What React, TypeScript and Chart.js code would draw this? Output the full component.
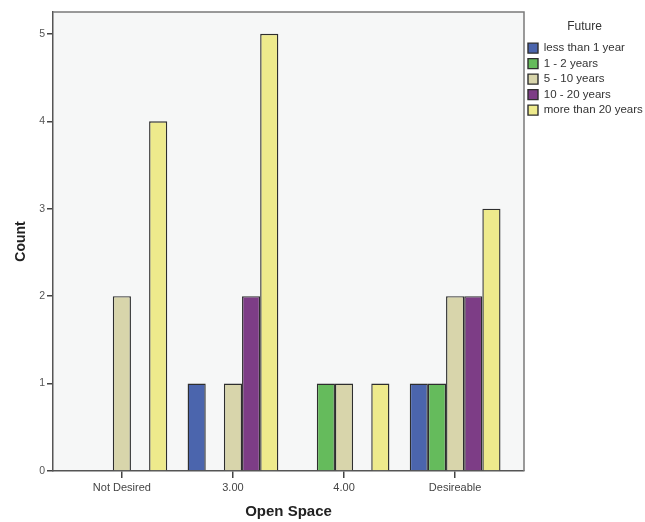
import React, { useEffect, useRef } from 'react';
import { Chart, registerables } from 'chart.js';

Chart.register(...registerables);

const categories = ['Not Desired', '3.00', '4.00', 'Desireable'];
const seriesNames = ['less than 1 year', '1 - 2 years', '5 - 10 years', '10 - 20 years', 'more than 20 years'];
const lessThan1Year = [null, 1, null, 1];
const oneTo2Years = [null, null, 1, 1];
const fiveTo10Years = [2, 1, 1, 2];
const tenTo20Years = [null, 2, null, 2];
const moreThan20Years = [4, 5, 1, 3];
const yTickValues = [0, 1, 2, 3, 4, 5];
const seriesColors = ['#4b65ad', '#65bb5c', '#d8d5ab', '#7d3d86', '#eeea8c'];

const FONT = '"Liberation Sans", Arial, Helvetica, sans-serif';

const plotFrame = {
  id: 'plotFrame',
  beforeDraw(chart: any) {
    const { ctx, chartArea: a } = chart;
    ctx.save();
    ctx.fillStyle = '#ffffff';
    ctx.fillRect(0, 0, chart.width, chart.height);
    ctx.fillStyle = '#f6f7f7';
    ctx.fillRect(a.left, a.top, a.right - a.left, a.bottom - a.top);
    ctx.restore();
  },
  afterDraw(chart: any) {
    const { ctx, chartArea: a } = chart;
    ctx.save();
    ctx.strokeStyle = '#7a7a7a';
    ctx.lineWidth = 1.5;
    ctx.beginPath();
    ctx.moveTo(a.left, a.top);
    ctx.lineTo(a.right, a.top);
    ctx.lineTo(a.right, a.bottom);
    ctx.stroke();
    ctx.restore();
  },
};

export default function App() {
  const ref = useRef<HTMLCanvasElement | null>(null);

  useEffect(() => {
    if (!ref.current) return;
    const series = [lessThan1Year, oneTo2Years, fiveTo10Years, tenTo20Years, moreThan20Years];
    const chart = new Chart(ref.current, {
      type: 'bar',
      data: {
        datasets: series.map((vals, i) => ({
          label: seriesNames[i],
          data: vals.map((v, j) => ({ x: j, y: v })),
          backgroundColor: seriesColors[i],
          borderColor: '#2e2e2e',
          borderWidth: 1.4,
          categoryPercentage: 0.817,
          barPercentage: 1,
        })),
      },
      options: {
        responsive: false,
        animation: false,
        layout: { padding: { top: 12, left: 0, right: 0, bottom: 0 } },
        plugins: {
          tooltip: { enabled: false },
          legend: {
            position: 'right',
            align: 'start',
            maxWidth: 121,
            title: {
              display: true,
              text: 'Future',
              color: '#333333',
              font: { family: FONT, size: 12 },
              padding: { top: 9, bottom: 3 },
            },
            labels: {
              boxWidth: 10,
              boxHeight: 10,
              padding: 4,
              color: '#333333',
              font: { family: FONT, size: 11.5 },
            },
          },
        },
        scales: {
          x: {
            type: 'linear',
            min: -0.62,
            max: 3.62,
            offset: false,
            afterBuildTicks: (axis: any) => {
              axis.ticks = categories.map((_, i) => ({ value: i }));
            },
            afterFit: (axis: any) => {
              axis.height = 51;
            },
            grid: {
              display: true,
              offset: false,
              drawOnChartArea: false,
              drawTicks: true,
              tickLength: 7,
              color: '#444444',
              lineWidth: 1.5,
            },
            border: { display: true, color: '#555555', width: 1.5 },
            ticks: {
              autoSkip: false,
              maxRotation: 0,
              padding: 3,
              color: '#444444',
              font: { family: FONT, size: 11 },
              callback: (v: any) => categories[v] ?? '',
            },
            title: {
              display: true,
              text: 'Open Space',
              color: '#222222',
              font: { family: FONT, size: 15, weight: 'bold' },
              padding: { top: 2, bottom: 1 },
            },
          },
          y: {
            type: 'linear',
            min: 0,
            max: 5.25,
            afterBuildTicks: (axis: any) => {
              axis.ticks = yTickValues.map((v) => ({ value: v }));
            },
            afterFit: (axis: any) => {
              axis.width = 53;
            },
            grid: {
              display: true,
              drawOnChartArea: false,
              drawTicks: true,
              tickLength: 6,
              color: '#444444',
              lineWidth: 1.5,
            },
            border: { display: true, color: '#555555', width: 1.5 },
            ticks: {
              padding: 2,
              color: '#555555',
              font: { family: FONT, size: 10.5 },
            },
            title: {
              display: true,
              text: 'Count',
              color: '#222222',
              font: { family: FONT, size: 14, weight: 'bold' },
              padding: { top: 13, bottom: 0 },
            },
          },
        },
      } as any,
      plugins: [plotFrame],
    });
    return () => chart.destroy();
  }, []);

  return (
    <div style={{ position: 'fixed', left: 0, top: 0, width: 645, height: 522 }}>
      <canvas ref={ref} width={645} height={522} />
    </div>
  );
}
